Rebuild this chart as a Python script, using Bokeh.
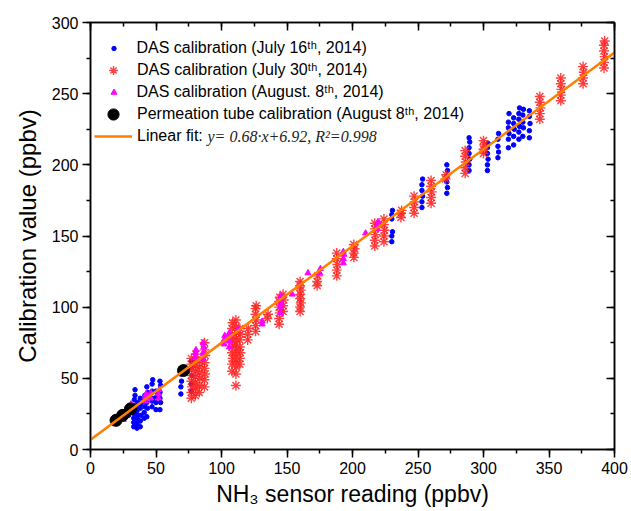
from bokeh.plotting import figure
from bokeh.models import (LinearAxis, Range1d, SingleIntervalTicker, Legend, LegendItem,
                          Label, CustomJSTickFormatter, ColumnDataSource)
from bokeh.embed import file_html
from bokeh.resources import INLINE

# ---------------- data ----------------
july16_x = [
    29, 29.5, 30,
    33, 33, 33, 33.5, 33, 33, 33.5, 34, 34,
    35.5, 35.5, 36, 36, 35.5, 36, 36,
    38, 38, 38.5, 38, 38.5, 38,
    41, 41, 41.5, 41, 41.5,
    43, 43.5, 43, 43, 43.5, 43,
    47, 47, 47.5, 47, 47, 47.5,
    50, 50, 50.5, 50,
    53, 53.5, 53, 53, 53.5, 53,
    69, 69, 69.5, 69,
    77, 77, 77.5, 77, 77,
    230, 230, 230.5, 230, 230, 230.5,
    253, 253, 253.5, 253, 253, 253.5,
    272, 272.5, 272, 272, 272.5, 272,
    289, 289, 289.5, 289, 289, 289.5, 289,
    303, 303, 303.5, 303, 303, 303.5,
    311, 311.5, 311, 311, 311.5,
    319, 319, 319.5, 319, 319, 319.5,
    323, 323, 323.5, 323, 323,
    327, 327, 327.5, 327, 327, 327.5,
    330, 330.5, 330, 330, 330.5,
    335, 335, 335.5, 335, 335,
]
july16_y = [
    24, 27, 31,
    16, 19, 22, 25, 28, 31, 35, 38, 42,
    15, 18, 21, 24, 27, 30, 33,
    16, 20, 24, 29, 32, 36,
    22, 26, 30, 34, 38,
    23, 29, 33, 37, 40, 44,
    30, 34, 36, 41, 46, 49,
    28, 33, 37, 41,
    28, 33, 36, 40, 45, 48,
    39, 44, 48, 53,
    41, 46, 52, 58, 62,
    146, 150, 153, 162, 165, 168,
    170, 174, 178, 182, 186, 190,
    180, 184, 188, 192, 196, 200,
    196, 200, 204, 208, 212, 216, 219,
    196, 200, 204, 208, 212, 215,
    205, 209, 213, 218, 222,
    212, 218, 222, 226, 230, 236,
    214, 220, 225, 229, 233,
    218, 223, 227, 232, 236, 240,
    220, 226, 230, 235, 239,
    219, 224, 229, 234, 238,
]

july30_x = [
    77, 77, 77.5, 77, 77, 77.5, 77, 77,
    80, 80.5, 80, 80, 80.5, 80, 80, 80.5,
    83, 83, 83.5, 83, 83, 83.5,
    87, 87, 87.5, 87, 87, 87.5, 87, 87,
    108, 108, 108.5, 108, 108, 108.5, 108, 108, 108.5,
    111, 111, 111.5, 111, 111, 111.5, 111, 111, 111.5, 111, 111,
    114, 114, 114.5, 114, 114, 114.5, 114,
    120, 120, 120.5,
    126, 126, 126.5, 126, 126, 126.5,
    135, 135.5,
    144, 144, 144.5, 144, 144, 144.5,
    147, 147, 147.5, 147,
    160, 160, 160.5, 160, 160, 160.5, 160, 160,
    173, 173, 173.5,
    188, 188, 188.5, 188, 188,
    201, 201, 201.5, 201,
    217, 217, 217.5, 217, 217,
    224, 224, 224.5, 224, 224,
    237, 237, 237.5,
    247, 247, 247.5, 247,
    260, 260, 260.5, 260, 260,
    271, 271.5,
    286, 286, 286.5, 286, 286,
    300, 300, 300.5, 300,
    343, 343, 343.5, 343, 343,
    359, 359, 359.5, 359, 359,
    376, 376, 376.5, 376,
    392, 392, 392.5, 392, 392, 392.5,
]
july30_y = [
    36, 40, 44, 48, 52, 56, 60, 64,
    38, 43, 47, 51, 55, 59, 63, 67,
    40, 45, 50, 54, 58, 62,
    44, 49, 53, 57, 61, 66, 70, 75,
    55, 60, 64, 68, 72, 76, 80, 85, 89,
    45, 53, 58, 62, 66, 70, 74, 78, 82, 86, 91,
    60, 64, 68, 72, 77, 81, 85,
    77, 81, 85,
    83, 87, 91, 95, 99, 101,
    92, 95,
    88, 92, 96, 100, 104, 107,
    97, 101, 105, 109,
    97, 100, 103, 106, 109, 112, 115, 118,
    115, 118, 122,
    122, 126, 130, 134, 138,
    135, 138, 141, 144,
    143, 147, 151, 155, 159,
    146, 150, 154, 158, 162,
    163, 166, 168,
    166, 170, 174, 178,
    173, 177, 181, 185, 189,
    190, 193,
    194, 198, 202, 206, 210,
    208, 211, 214, 217,
    232, 236, 240, 244, 248,
    245, 249, 253, 257, 261,
    257, 261, 265, 269,
    268, 272, 276, 280, 284, 287,
]

aug8_x = [19, 19.5, 25, 25.5, 31, 31, 42, 42, 42.5, 46, 46, 52, 52, 52.5,
          80, 80, 80.5, 86, 86, 86.5, 86, 102, 102, 102.5, 106, 106, 106.5, 106,
          113, 131, 131, 145, 145, 145.5, 145, 145.5, 154, 166, 175, 175.5,
          193, 193, 193.5, 193, 210, 219, 219, 219.5]
aug8_y = [18, 20, 21, 24, 29, 32, 34, 37, 39, 36, 40, 36, 39, 42,
          65, 68, 70, 64, 68, 72, 75, 74, 77, 80, 72, 76, 80, 82,
          85, 88, 90, 96, 100, 103, 106, 108, 109, 124, 124, 127,
          131, 134, 137, 139, 152, 155, 158, 160]

perm_x = [19.5, 24.5, 30.5, 71]
perm_y = [20.5, 24, 28.5, 55.5]

fit_slope = 0.68
fit_intercept = 6.92
fit_x = [0, 400]

x_ticks_interval = 50
y_ticks_interval = 50

legend_labels = [
    "DAS calibration (July 16\u1d57\u02b0, 2014)",
    "DAS calibration (July 30\u1d57\u02b0, 2014)",
    "DAS calibration (August. 8\u1d57\u02b0, 2014)",
    "Permeation tube calibration (August 8\u1d57\u02b0, 2014)",
    "Linear fit:",
]
fit_text = "y= 0.68\u00b7x+6.92, R\u00b2=0.998"

# ---------------- figure ----------------
FONT = "Liberation Sans"
FRAME_BOTTOM = 449  # canvas px of the frame's bottom edge (511 - min_border_bottom)

p = figure(width=631, height=511, output_backend="svg", toolbar_location=None,
           x_range=Range1d(0, 400), y_range=Range1d(0, 300),
           min_border_left=90, min_border_right=17, min_border_top=22, min_border_bottom=62,
           background_fill_color="white", border_fill_color="white")
p.grid.visible = False
p.outline_line_color = "black"
p.outline_line_width = 1.5

p.xaxis.ticker = SingleIntervalTicker(interval=x_ticks_interval, num_minor_ticks=2)
p.yaxis.ticker = SingleIntervalTicker(interval=y_ticks_interval, num_minor_ticks=2)

for ax in (p.xaxis[0], p.yaxis[0]):
    ax.axis_line_width = 1.5
    ax.major_tick_line_width = 1.5
    ax.minor_tick_line_width = 1.5
    ax.major_tick_out = 8
    ax.major_tick_in = 0
    ax.minor_tick_out = 4
    ax.minor_tick_in = 0
    ax.major_label_text_font = FONT
    ax.major_label_text_font_size = "16px"
    ax.major_label_text_color = "black"
    ax.axis_label_text_font = FONT
    ax.axis_label_text_font_style = "normal"
    ax.axis_label_text_color = "black"

p.xaxis.axis_label = "NH\u2083 sensor reading (ppbv)"
p.yaxis.axis_label = "Calibration value (ppbv)"
p.xaxis.axis_label_text_font_size = "23px"
p.yaxis.axis_label_text_font_size = "24px"
p.xaxis.major_label_standoff = 4
p.yaxis.major_label_standoff = 4
p.xaxis.axis_label_standoff = 4
p.yaxis.axis_label_standoff = 8

for loc, iv in (("above", x_ticks_interval), ("right", y_ticks_interval)):
    ax = LinearAxis(ticker=SingleIntervalTicker(interval=iv, num_minor_ticks=2),
                    formatter=CustomJSTickFormatter(code="return ''"),
                    major_tick_in=8, major_tick_out=0, minor_tick_in=4, minor_tick_out=0,
                    axis_line_width=1.5, major_tick_line_width=1.5, minor_tick_line_width=1.5,
                    major_label_standoff=0, major_label_text_font_size="1px")
    p.add_layout(ax, loc)

src16 = ColumnDataSource(dict(x=july16_x, y=july16_y))
src30 = ColumnDataSource(dict(x=july30_x, y=july30_y))
src08 = ColumnDataSource(dict(x=aug8_x, y=aug8_y))
srcpm = ColumnDataSource(dict(x=perm_x, y=perm_y))
fit_y = [fit_slope * v + fit_intercept for v in fit_x]
srcfit = ColumnDataSource(dict(x=fit_x, y=fit_y))

r16 = p.scatter("x", "y", source=src16, marker="circle", size=4.5,
                fill_color="#0000ff", line_color="#0000ff")
r30 = p.scatter("x", "y", source=src30, marker="asterisk", size=10,
                line_color="#ff2020", line_width=1.4, line_alpha=0.85)
r08 = p.scatter("x", "y", source=src08, marker="triangle", size=6,
                fill_color="#ff00ff", line_color="#ff00ff")
rpm = p.scatter("x", "y", source=srcpm, marker="circle", size=12,
                fill_color="black", line_color="black")
rfit = p.line("x", "y", source=srcfit, line_color="#ff8000", line_width=2.5)

# one legend per entry so that each legend marker keeps its own size
# (Bokeh draws legend markers at 0.4 * min(glyph_width, glyph_height))
MARK_CX = 113      # canvas x of legend marker centres
TEXT_X = 137       # canvas x where legend texts start
rows = [  # renderer, label, glyph width, glyph height, row centre (canvas y)
    (r16, legend_labels[0], 11, 22, 48),
    (r30, legend_labels[1], 22, 22, 70),
    (r08, legend_labels[2], 15, 22, 92),
    (rpm, legend_labels[3], 28, 28, 114),
    (rfit, legend_labels[4], 38, 22, 136),
]
for rend, lab, gw, gh, cy in rows:
    left = MARK_CX - gw / 2.0 - 90
    bottom = FRAME_BOTTOM - (cy + gh / 2.0)
    lg = Legend(items=[LegendItem(label=lab, renderers=[rend])],
                location=(left, bottom), margin=0, padding=0, spacing=0,
                glyph_width=gw, glyph_height=gh, label_height=gh,
                label_standoff=int(round(TEXT_X - (MARK_CX + gw / 2.0))),
                label_text_font=FONT, label_text_font_size="16px", label_text_color="black",
                border_line_color=None, background_fill_alpha=0)
    p.add_layout(lg)

p.add_layout(Label(x=117, y=FRAME_BOTTOM - 136, x_units="screen", y_units="screen", text=fit_text,
                   text_font="Liberation Serif", text_font_style="italic",
                   text_font_size="16px", text_baseline="middle", text_color="#222222"))

open("out.html", "w").write(file_html(p, INLINE))
